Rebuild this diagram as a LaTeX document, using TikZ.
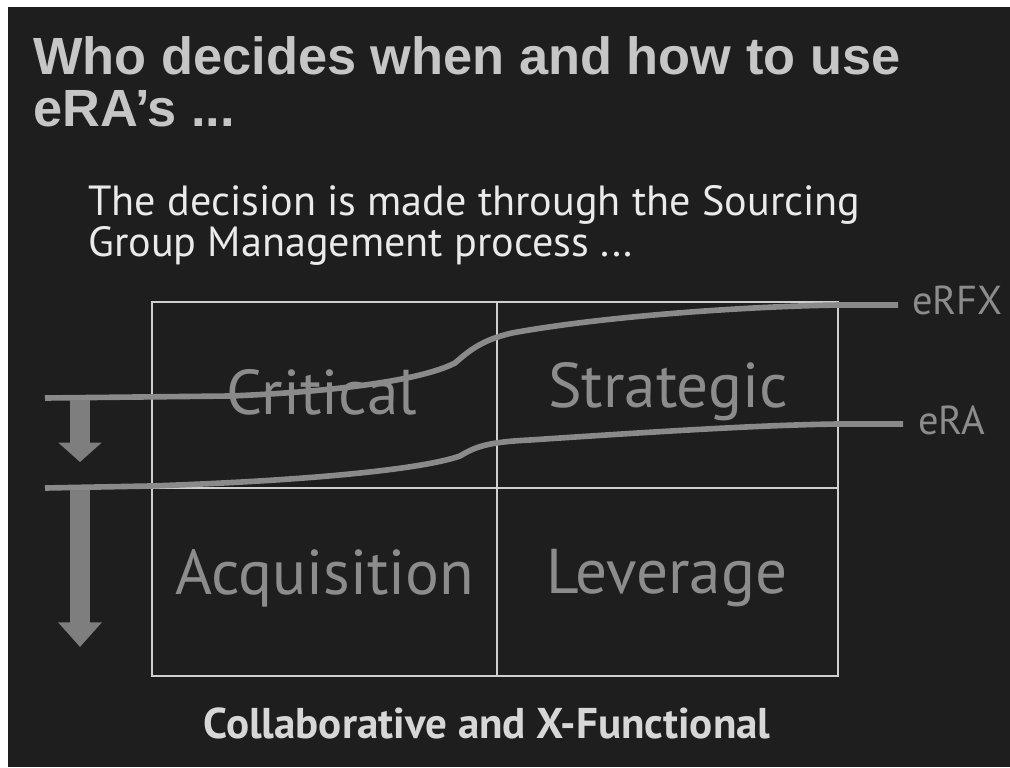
\documentclass[tikz,border=0pt]{standalone}
\usepackage{fontspec}
\setmainfont{PT Sans}
\newfontfamily\headfont{Liberation Sans}
\usetikzlibrary{arrows.meta}
\definecolor{slidebg}{HTML}{1E1E1E}
\definecolor{headgray}{HTML}{C6C6C6}
\definecolor{introgray}{HTML}{EAEAEA}
\definecolor{quadgray}{HTML}{8C8C8C}
\definecolor{curvegray}{HTML}{8A8A8A}
\definecolor{gridgray}{HTML}{CFCFCF}
\definecolor{arrowgray}{HTML}{7E7E7E}
\tikzset{quad/.style = {text = quadgray, font = \fontsize{36}{38}\selectfont, inner sep = 0},
  curve/.style = {draw = curvegray, line width = 3.2, line cap = butt},
  grid/.style = {draw = gridgray, line width = 0.8},
  down/.style = {draw = arrowgray, line width = 11.5},
  tag/.style = {text = quadgray, font = \fontsize{23}{25}\selectfont, inner sep = 0, anchor = west}}

\begin{document}
\begin{tikzpicture}[x = 0.02cm, y = -0.02cm]

      \useasboundingbox (0, 0) rectangle (1010, 767);
      \fill [white] (0, 0) rectangle (1010, 767);
      \fill [slidebg] (8, 7) rectangle (1010, 767);

      % heading and lead text
      \node [anchor = north west, inner sep = 0, text = headgray, align = left,
        font = \headfont\bfseries\fontsize{29.8}{30}\selectfont] (title) at (33, 36)
        {Who decides when and how to use\\eRA’s ...};
      \node [anchor = north west, inner sep = 0, text = introgray, align = left,
        font = \fontsize{24}{19.5}\selectfont] (intro) at (88, 185)
        {The decision is made through the Sourcing\\Group Management process ...};

      % the four quadrants
      \draw [grid] (152, 302) rectangle (838, 676);
      \draw [grid] (497, 302) -- (497, 676);
      \draw [grid] (152, 488) -- (838, 488);

      \node [quad] (crit) at (322, 392) {Critical};
      \node [quad] (strat) at (668, 392) {Strategic};
      \node [quad] (acq) at (325, 578) {Acquisition};
      \node [quad] (lev) at (667, 578) {Leverage};

      % eRFX and eRA thresholds
      \coordinate (rfx0) at (45, 398);
      \coordinate (rfx1) at (898, 305);
      \coordinate (ra0) at (45, 488);
      \coordinate (ra1) at (903, 424);

      \draw [curve] (rfx0) -- (230, 396) .. controls (330, 392) and (420, 381) .. (455, 363)
        .. controls (470, 350) and (482, 340) .. (512, 333)
        .. controls (610, 315) and (760, 306) .. (840, 305) -- (rfx1);
      \draw [curve] (ra0) -- (150, 486) .. controls (300, 481) and (420, 470) .. (460, 456)
        .. controls (475, 447) and (487, 442) .. (530, 440)
        .. controls (650, 432) and (760, 425) .. (838, 424) -- (ra1);

      \node [tag] (erfx) at (912, 300) {eRFX};
      \node [tag] (era) at (918, 420) {eRA};

      % downward arrows
      \coordinate (a0) at (80, 400);
      \coordinate (a1) at (80, 462);
      \coordinate (b0) at (80, 490);
      \coordinate (b1) at (80, 647);
      \draw [down, -{Triangle[width = 24, length = 11]}] (a0) -- (a1);
      \draw [down, -{Triangle[width = 24, length = 14]}] (b0) -- (b1);

      \node [text = introgray!92!black, font = \bfseries\fontsize{24.5}{26}\selectfont, inner sep = 0]
        (foot) at (487, 723) {Collaborative and X-Functional};
    \end{tikzpicture}
\end{document}
